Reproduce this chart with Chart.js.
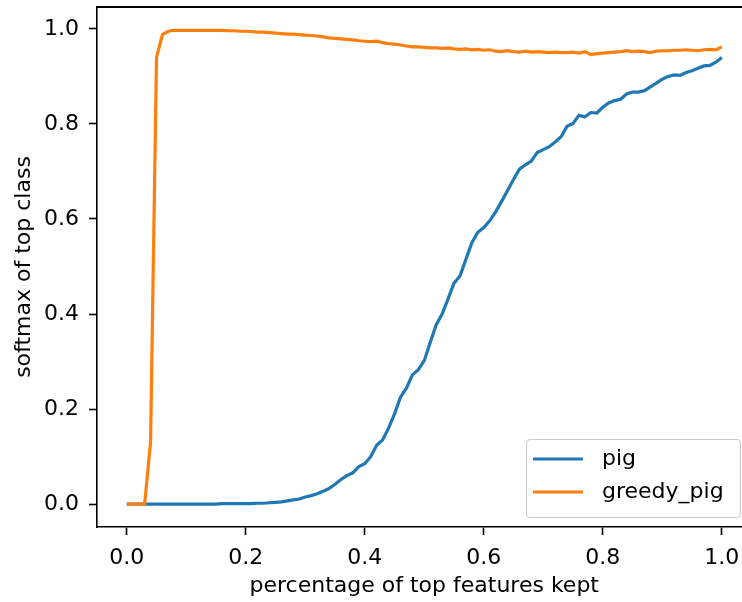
<!DOCTYPE html>
<html>
<head>
<meta charset="utf-8">
<script src="https://cdn.jsdelivr.net/npm/chart.js@4.4.1/dist/chart.umd.min.js"></script>
<style>
  html, body { margin: 0; padding: 0; background: #fff; overflow: hidden; }
  canvas { display: block; }
</style>
</head>
<body>
<canvas id="chart" width="742" height="602"></canvas>
<script>
// fraction of top features kept
const kept = [
  0.00, 0.01, 0.02, 0.03, 0.04, 0.05, 0.06, 0.07, 0.08, 0.09,
  0.10, 0.11, 0.12, 0.13, 0.14, 0.15, 0.16, 0.17, 0.18, 0.19,
  0.20, 0.21, 0.22, 0.23, 0.24, 0.25, 0.26, 0.27, 0.28, 0.29,
  0.30, 0.31, 0.32, 0.33, 0.34, 0.35, 0.36, 0.37, 0.38, 0.39,
  0.40, 0.41, 0.42, 0.43, 0.44, 0.45, 0.46, 0.47, 0.48, 0.49,
  0.50, 0.51, 0.52, 0.53, 0.54, 0.55, 0.56, 0.57, 0.58, 0.59,
  0.60, 0.61, 0.62, 0.63, 0.64, 0.65, 0.66, 0.67, 0.68, 0.69,
  0.70, 0.71, 0.72, 0.73, 0.74, 0.75, 0.76, 0.77, 0.78, 0.79,
  0.80, 0.81, 0.82, 0.83, 0.84, 0.85, 0.86, 0.87, 0.88, 0.89,
  0.90, 0.91, 0.92, 0.93, 0.94, 0.95, 0.96, 0.97, 0.98, 0.99,
  1.00,
];

const pig = [
  0.000, 0.000, 0.000, 0.000, 0.000, 0.000, 0.000, 0.000, 0.000, 0.000,
  0.000, 0.000, 0.000, 0.000, 0.000, 0.000, 0.001, 0.001, 0.001, 0.001,
  0.001, 0.001, 0.002, 0.002, 0.003, 0.004, 0.005, 0.007, 0.009, 0.011,
  0.015, 0.018, 0.022, 0.027, 0.033, 0.042, 0.052, 0.060, 0.066, 0.079,
  0.085, 0.100, 0.124, 0.135, 0.160, 0.190, 0.225, 0.244, 0.272, 0.283,
  0.302, 0.340, 0.377, 0.400, 0.432, 0.465, 0.480, 0.515, 0.550, 0.572,
  0.582, 0.596, 0.615, 0.637, 0.660, 0.683, 0.705, 0.714, 0.722, 0.740,
  0.746, 0.752, 0.762, 0.773, 0.795, 0.801, 0.818, 0.815, 0.824, 0.823,
  0.835, 0.844, 0.849, 0.852, 0.863, 0.867, 0.867, 0.870, 0.878, 0.886,
  0.894, 0.900, 0.903, 0.902, 0.908, 0.912, 0.917, 0.922, 0.923, 0.930,
  0.940,
];

const greedyPig = [
  0.000, 0.000, 0.000, 0.000, 0.130, 0.940, 0.988, 0.995, 0.997, 0.997,
  0.997, 0.997, 0.997, 0.997, 0.997, 0.997, 0.997, 0.996, 0.996, 0.995,
  0.995, 0.994, 0.993, 0.993, 0.992, 0.991, 0.990, 0.989, 0.989, 0.988,
  0.987, 0.986, 0.985, 0.983, 0.981, 0.980, 0.979, 0.978, 0.977, 0.975,
  0.974, 0.973, 0.974, 0.971, 0.969, 0.968, 0.966, 0.964, 0.962, 0.962,
  0.961, 0.960, 0.960, 0.959, 0.960, 0.958, 0.957, 0.958, 0.956, 0.957,
  0.955, 0.956, 0.953, 0.952, 0.954, 0.952, 0.951, 0.953, 0.951, 0.952,
  0.951, 0.950, 0.951, 0.950, 0.950, 0.951, 0.949, 0.952, 0.946, 0.948,
  0.949, 0.950, 0.951, 0.952, 0.954, 0.952, 0.953, 0.952, 0.950, 0.953,
  0.954, 0.954, 0.955, 0.955, 0.956, 0.955, 0.954, 0.956, 0.957, 0.956,
  0.962,
];

const xTicks = [0, 0.2, 0.4, 0.6, 0.8, 1.0];
const yTicks = [0, 0.2, 0.4, 0.6, 0.8, 1.0];

const FONT = "DejaVu Sans";
const X_MIN = -0.05;
const X_MAX = 1.034; // right side of the axes is cut off in the figure

function toPoints(ys) {
  return ys.map((y, i) => ({ x: kept[i], y: y }));
}

// top spine + x title, centred on the full (uncut) axes width -0.05..1.05
const framePlugin = {
  id: "frame",
  afterDraw(chart) {
    const { ctx, chartArea, scales } = chart;
    ctx.save();
    ctx.fillStyle = "#000";
    ctx.fillRect(chartArea.left - 1, Math.floor(chartArea.top) - 1, chartArea.right - chartArea.left + 1, 2);

    const cx = (scales.x.getPixelForValue(-0.05) + scales.x.getPixelForValue(1.05)) / 2;
    ctx.font = "22px '" + FONT + "'";
    ctx.textAlign = "center";
    ctx.textBaseline = "middle";
    ctx.fillText("percentage of top features kept", cx, 586);
    ctx.restore();
  },
};

// boxed legend in the lower right corner
const legendPlugin = {
  id: "boxLegend",
  afterDraw(chart) {
    const ctx = chart.ctx;
    ctx.save();
    ctx.fillStyle = "rgba(255,255,255,0.8)";
    ctx.strokeStyle = "#cccccc";
    ctx.lineWidth = 1.2;
    ctx.beginPath();
    ctx.roundRect(526.5, 439.5, 214, 78, 4);
    ctx.fill();
    ctx.stroke();
    chart.data.datasets.forEach((ds, i) => {
      const rowY = 459 + i * 33;
      ctx.strokeStyle = ds.borderColor;
      ctx.lineWidth = ds.borderWidth;
      ctx.beginPath();
      ctx.moveTo(533, rowY);
      ctx.lineTo(583, rowY);
      ctx.stroke();
      ctx.fillStyle = "#000";
      ctx.font = "22px '" + FONT + "'";
      ctx.textBaseline = "middle";
      ctx.fillText(ds.label, 602, rowY);
    });
    ctx.restore();
  },
};

const ctx = document.getElementById("chart").getContext("2d");

new Chart(ctx, {
  type: "line",
  data: {
    datasets: [
      {
        label: "pig",
        data: toPoints(pig),
        borderColor: "#1f77b4",
        borderWidth: 3.2,
        pointRadius: 0,
        tension: 0,
        order: 1,
      },
      {
        label: "greedy_pig",
        data: toPoints(greedyPig),
        borderColor: "#ff7f0e",
        borderWidth: 3.2,
        pointRadius: 0,
        tension: 0,
        order: 0,
      },
    ],
  },
  options: {
    responsive: false,
    animation: false,
    devicePixelRatio: 1,
    layout: { padding: { top: 7, right: 0, left: 0, bottom: 0 } },
    plugins: {
      legend: { display: false },
      tooltip: { enabled: false },
    },
    scales: {
      x: {
        type: "linear",
        min: X_MIN,
        max: X_MAX,
        afterBuildTicks: (scale) => {
          scale.ticks = xTicks.map((v) => ({ value: v }));
        },
        afterFit: (scale) => {
          scale.height = 75;
          scale.paddingLeft = 0;
          scale.paddingRight = 0;
        },
        ticks: {
          color: "#000",
          font: { family: FONT, size: 22 },
          padding: 10,
          maxRotation: 0,
          callback: (v) => v.toFixed(1),
        },
        grid: {
          drawOnChartArea: false,
          drawTicks: true,
          tickLength: 8,
          tickWidth: 1.6,
          tickColor: "#000",
        },
        border: { display: true, color: "#000", width: 1.6 },
      },
      y: {
        type: "linear",
        min: -0.048,
        max: 1.046,
        afterBuildTicks: (scale) => {
          scale.ticks = yTicks.map((v) => ({ value: v }));
        },
        afterFit: (scale) => {
          scale.width = 97;
          scale.paddingTop = 0;
          scale.paddingBottom = 0;
        },
        ticks: {
          color: "#000",
          font: { family: FONT, size: 22 },
          padding: 10,
          callback: (v) => v.toFixed(1),
        },
        grid: {
          drawOnChartArea: false,
          drawTicks: true,
          tickLength: 8,
          tickWidth: 1.6,
          tickColor: "#000",
        },
        border: { display: true, color: "#000", width: 1.6 },
        title: {
          display: true,
          text: "softmax of top class",
          color: "#000",
          font: { family: FONT, size: 22 },
          padding: { top: 11, bottom: 0 },
        },
      },
    },
  },
  plugins: [framePlugin, legendPlugin],
});
</script>
</body>
</html>
